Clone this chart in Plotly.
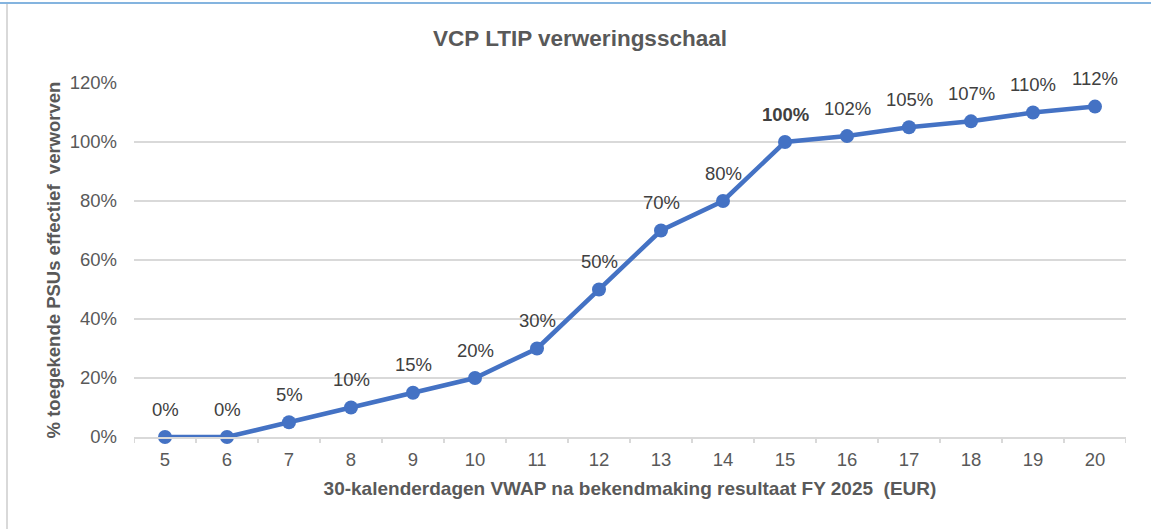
import plotly.graph_objects as go

prices = [5, 6, 7, 8, 9, 10, 11, 12, 13, 14, 15, 16, 17, 18, 19, 20]
vesting = [0, 0, 5, 10, 15, 20, 30, 50, 70, 80, 100, 102, 105, 107, 110, 112]
labels = [f"<b>{v}%</b>" if v == 100 else f"{v}%" for v in vesting]
y_ticks = [0, 20, 40, 60, 80, 100, 120]

W, H = 1151, 529
L, R, T, B = 134, 25, 83, 92
pw, ph = W - L - R, H - T - B
FONT = "Liberation Sans, Arial, sans-serif"

fig = go.Figure()
fig.add_trace(go.Scatter(
    x=prices, y=vesting, mode="lines+markers",
    line=dict(color="#4472C4", width=4.5),
    marker=dict(color="#4472C4", size=14),
    cliponaxis=False, hoverinfo="skip", showlegend=False,
))

annotations = [
    dict(x=p, y=v, xref="x", yref="y", text=t, showarrow=False,
         yshift=28, font=dict(family=FONT, size=18.5, color="#404040"))
    for p, v, t in zip(prices, vesting, labels)
]


def px_x(p):
    return (p - L) / pw


def px_y(p):
    return (H - B - p) / ph


fig.update_layout(
    width=W, height=H,
    margin=dict(l=L, r=R, t=T, b=B),
    paper_bgcolor="white", plot_bgcolor="white",
    font=dict(family=FONT, color="#595959"),
    title=dict(text="<b>VCP LTIP verweringsschaal</b>", x=580 / W, xanchor="center",
               y=1 - 38 / H, yanchor="middle",
               font=dict(size=22.5, color="#595959")),
    xaxis=dict(
        range=[4.5, 20.5], tickmode="array", tickvals=prices,
        ticktext=[str(p) for p in prices],
        showgrid=False, zeroline=False,
        showline=True, linecolor="#d9d9d9", linewidth=2,
        ticks="", ticklabelstandoff=5,
        tickfont=dict(size=18.5, color="#595959"),
        title=dict(text="<b>30-kalenderdagen VWAP na bekendmaking resultaat FY 2025  (EUR)</b>",
                   font=dict(size=19, color="#595959"), standoff=12),
    ),
    yaxis=dict(
        range=[0, 120], tickmode="array", tickvals=y_ticks,
        ticktext=[f"{v}%" for v in y_ticks],
        showgrid=True, gridcolor="#d9d9d9", gridwidth=1.5,
        zeroline=False, showline=False, ticks="",
        ticklabelstandoff=16,
        tickfont=dict(size=18.5, color="#595959"),
        title=dict(text="<b>% toegekende PSUs effectief  verworven</b>",
                   font=dict(size=18.5, color="#595959"), standoff=4),
    ),
    annotations=annotations,
)

shapes = []
# category boundary tick marks on x axis
for i in range(len(prices) + 1):
    xb = prices[0] - 0.5 + i
    shapes.append(dict(type="line", xref="x", yref="paper", x0=xb, x1=xb,
                       y0=0, y1=px_y(H - B + 6), line=dict(color="#d9d9d9", width=2)))
# outer frame lines
shapes.append(dict(type="line", xref="paper", yref="paper",
                   x0=px_x(0), x1=px_x(W), y0=px_y(3), y1=px_y(3),
                   line=dict(color="#5B9BD5", width=1.5)))
shapes.append(dict(type="line", xref="paper", yref="paper",
                   x0=px_x(7), x1=px_x(7), y0=px_y(4), y1=px_y(H),
                   line=dict(color="#d9d9d9", width=2)))
fig.update_layout(shapes=shapes)

fig.write_html("out.html", config={"displayModeBar": False},
               post_script="document.body.style.margin='0px';")
